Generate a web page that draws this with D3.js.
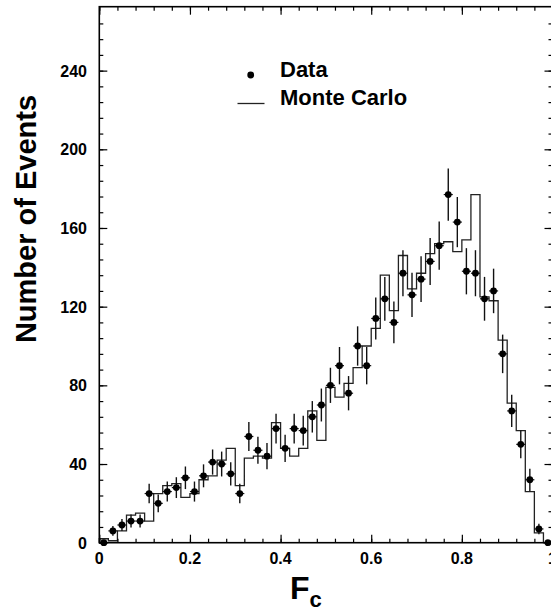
<!DOCTYPE html>
<html><head><meta charset="utf-8">
<script src="https://cdn.jsdelivr.net/npm/d3@7"></script>
<style>body{margin:0;background:#fff}svg{display:block}</style>
</head><body>
<svg id="c" width="551" height="612"></svg>
<script>
// ---- data ----
const binCenters = [0.01,0.03,0.05,0.07,0.09,0.11,0.13,0.15,0.17,0.19,
  0.21,0.23,0.25,0.27,0.29,0.31,0.33,0.35,0.37,0.39,
  0.41,0.43,0.45,0.47,0.49,0.51,0.53,0.55,0.57,0.59,
  0.61,0.63,0.65,0.67,0.69,0.71,0.73,0.75,0.77,0.79,
  0.81,0.83,0.85,0.87,0.89,0.91,0.93,0.95,0.97,0.99];
const dataCounts = [0,6,9,11,11,25,20,26,28,33,
  26,34,41,40,35,25,54,47,44,58,
  48,58,57,64,70,80,90,76,100,90,
  114,124,112,137,126,134,143,151,177,163,
  138,137,124,128,96,67,50,32,7,0];
const mcCounts = [2,1,6,14,15,11,25,29,30,23,
  25,32,34,42,48,29,43,44,43,61,
  48,44,48,67,52,79,74,81,89,100,
  109,136,118,146,129,137,147,152,153,148,
  154,177,125,123,103,71,57,26,5,0];
const binWidth = 0.02;
const xTicks = [0,0.2,0.4,0.6,0.8,1];
const xTickLabels = ["0","0.2","0.4","0.6","0.8","1"];
const yTicks = [0,40,80,120,160,200,240];
const legendLabels = ["Data","Monte Carlo"];

// ---- layout ----
const L = 99.3, R = 552.5, T = 6.7, B = 542.7;
const x = d3.scaleLinear().domain([0,1]).range([L,R]);
const y = d3.scaleLinear().domain([0,272.5]).range([B,T]);
const svg = d3.select("#c");
const font = "'Liberation Sans', Arial, Helvetica, sans-serif";

// histogram (Monte Carlo)
const stepPts = [[0,0]];
binCenters.forEach((c,i)=>{ stepPts.push([c-binWidth/2, mcCounts[i]]); });
stepPts.push([1, mcCounts[mcCounts.length-1]]);
stepPts.push([1, 0]);
const line = d3.line().x(d=>x(d[0])).y(d=>y(d[1])).curve(d3.curveStepAfter);
svg.append("path").attr("d", line(stepPts))
  .attr("fill","none").attr("stroke","#222").attr("stroke-width",1.3);

// data points with error bars
const pts = binCenters.map((c,i)=>({x:c, v:dataCounts[i]}));
const g = svg.append("g");
g.selectAll("line.ev").data(pts.filter(d=>d.v>0)).join("line")
  .attr("x1",d=>x(d.x)).attr("x2",d=>x(d.x))
  .attr("y1",d=>y(d.v+Math.sqrt(d.v))).attr("y2",d=>y(d.v-Math.sqrt(d.v)))
  .attr("stroke","#111").attr("stroke-width",1.4);
g.selectAll("line.eh").data(pts).join("line")
  .attr("x1",d=>x(d.x-binWidth/2)).attr("x2",d=>x(d.x+binWidth/2))
  .attr("y1",d=>y(d.v)).attr("y2",d=>y(d.v))
  .attr("stroke","#111").attr("stroke-width",1.2);
g.selectAll("circle").data(pts).join("circle")
  .attr("cx",d=>x(d.x)).attr("cy",d=>y(d.v)).attr("r",3.4).attr("fill","#000");

// frame
svg.append("rect").attr("x",L).attr("y",T).attr("width",R-L).attr("height",B-T)
  .attr("fill","none").attr("stroke","#000").attr("stroke-width",1.6);

// ticks (inward) via d3 axes
const xMinor = d3.range(0,1.0001,0.04);
const yMinor = d3.range(0,272,8);
function addAxis(axis, tx, ty){
  const a = svg.append("g").attr("transform",`translate(${tx},${ty})`).call(axis);
  a.select(".domain").remove();
  a.selectAll("text").remove();
  a.selectAll("line").attr("stroke","#000").attr("stroke-width",1.2);
}
addAxis(d3.axisTop(x).tickValues(xMinor).tickSize(4), 0, B);
addAxis(d3.axisTop(x).tickValues(xTicks).tickSize(8), 0, B);
addAxis(d3.axisBottom(x).tickValues(xMinor).tickSize(4), 0, T);
addAxis(d3.axisBottom(x).tickValues(xTicks).tickSize(8), 0, T);
addAxis(d3.axisRight(y).tickValues(yMinor).tickSize(4), L, 0);
addAxis(d3.axisRight(y).tickValues(yTicks).tickSize(8), L, 0);
addAxis(d3.axisLeft(y).tickValues(yMinor).tickSize(4), R, 0);
addAxis(d3.axisLeft(y).tickValues(yTicks).tickSize(8), R, 0);

// tick labels
svg.append("g").selectAll("text").data(xTicks).join("text")
  .attr("x",d=>x(d)).attr("y",564).attr("text-anchor","middle")
  .attr("font-family",font).attr("font-weight","bold").attr("font-size",16)
  .text((d,i)=>xTickLabels[i]);
svg.append("g").selectAll("text").data(yTicks).join("text")
  .attr("x",87).attr("y",d=>y(d)+6).attr("text-anchor","end")
  .attr("font-family",font).attr("font-weight","bold").attr("font-size",16)
  .text(d=>d);

// axis titles
const xt = svg.append("text").attr("x",290).attr("y",599)
  .attr("font-family",font).attr("font-weight","bold").attr("font-size",32);
xt.append("tspan").text("F");
xt.append("tspan").attr("font-size",22).attr("dy",8).text("c");
svg.append("text").attr("transform","translate(36,219) rotate(-90)")
  .attr("text-anchor","middle").attr("font-family",font).attr("font-weight","bold")
  .attr("font-size",29).text("Number of Events");

// legend
svg.append("circle").attr("cx",250.7).attr("cy",75).attr("r",3.4).attr("fill","#000");
svg.append("line").attr("x1",237.5).attr("x2",264.5).attr("y1",103.5).attr("y2",103.5)
  .attr("stroke","#222").attr("stroke-width",1.3);
svg.append("g").selectAll("text").data(legendLabels).join("text")
  .attr("x",280).attr("y",(d,i)=>77+i*28)
  .attr("font-family",font).attr("font-weight","bold").attr("font-size",22)
  .text(d=>d);
</script>
</body></html>
